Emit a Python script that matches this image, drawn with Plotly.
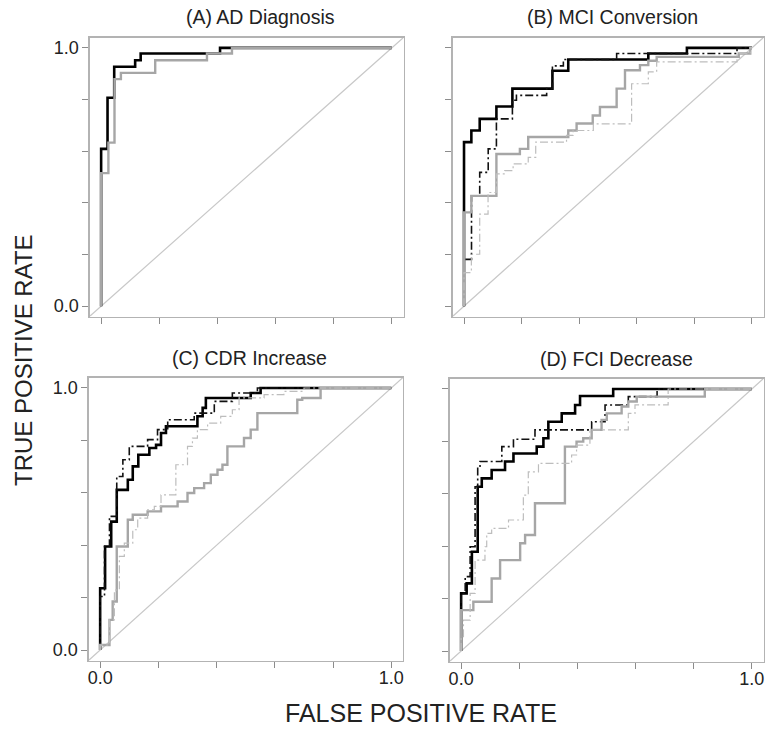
import plotly.graph_objects as go

# ---------------- data ----------------
AXIS_RANGE = [-0.04, 1.04]
TICK_VALS = [0.0, 0.2, 0.4, 0.6, 0.8, 1.0]
TICK_TEXT = ["0.0", "", "", "", "", "1.0"]
PANEL_TITLES = ["(A) AD Diagnosis", "(B) MCI Conversion", "(C) CDR Increase", "(D) FCI Decrease"]
X_TITLE = "FALSE POSITIVE RATE"
Y_TITLE = "TRUE POSITIVE RATE"

# Panel A
A_black_fpr = [0, 0.022, 0.045, 0.117, 0.136, 0.409, 1]
A_black_tpr = [0, 0.609, 0.807, 0.927, 0.952, 0.978, 1]
A_gray_fpr = [0, 0.025, 0.046, 0.068, 0.186, 0.364, 0.450, 1]
A_gray_tpr = [0, 0.515, 0.633, 0.879, 0.903, 0.952, 0.978, 1]

# Panel B
B_black_fpr = [0, 0.0255, 0.0545, 0.1125, 0.168, 0.307, 0.362, 0.640, 0.774, 1]
B_black_tpr = [0, 0.635, 0.680, 0.725, 0.773, 0.842, 0.911, 0.955, 0.978, 1]
B_blackdd_fpr = [0, 0.026, 0.0545, 0.084, 0.1125, 0.168, 0.182, 0.287, 0.307, 0.345, 0.530, 0.948, 1]
B_blackdd_tpr = [0, 0.181, 0.427, 0.518, 0.609, 0.725, 0.797, 0.816, 0.842, 0.930, 0.955, 0.978, 1]
B_gray_fpr = [0, 0.0255, 0.1125, 0.194, 0.223, 0.362, 0.391, 0.447, 0.472, 0.530, 0.559, 0.611, 0.640, 0.669, 0.954, 0.994, 1]
B_gray_tpr = [0, 0.363, 0.427, 0.589, 0.609, 0.655, 0.680, 0.707, 0.738, 0.771, 0.842, 0.913, 0.933, 0.950, 0.965, 0.978, 1]
B_graydd_fpr = [0, 0.0255, 0.0545, 0.0835, 0.1125, 0.1415, 0.1705, 0.223, 0.249, 0.356, 0.379, 0.449, 0.582, 0.640, 0.669, 0.948, 0.994, 1]
B_graydd_tpr = [0, 0.130, 0.201, 0.356, 0.440, 0.512, 0.525, 0.551, 0.576, 0.635, 0.661, 0.680, 0.706, 0.861, 0.907, 0.946, 0.978, 1]

# Panel C
C_black_fpr = [0, 0.017, 0.038, 0.057, 0.095, 0.112, 0.131, 0.169, 0.192, 0.209, 0.226, 0.334, 0.352, 0.363, 0.517, 0.551, 0.620, 1]
C_black_tpr = [0, 0.236, 0.395, 0.490, 0.611, 0.650, 0.701, 0.745, 0.771, 0.783, 0.828, 0.854, 0.892, 0.924, 0.962, 0.981, 1.0, 1]
C_blackdd_fpr = [0, 0.015, 0.032, 0.057, 0.078, 0.100, 0.163, 0.197, 0.232, 0.323, 0.392, 0.454, 0.540, 1]
C_blackdd_tpr = [0, 0.204, 0.395, 0.510, 0.662, 0.726, 0.777, 0.803, 0.841, 0.879, 0.904, 0.949, 0.981, 1]
C_gray_fpr = [0, 0.032, 0.043, 0.057, 0.095, 0.112, 0.163, 0.209, 0.266, 0.300, 0.323, 0.357, 0.380, 0.403, 0.420, 0.437, 0.494, 0.517, 0.540, 0.677, 0.694, 0.757, 1]
C_gray_tpr = [0, 0.019, 0.115, 0.185, 0.395, 0.497, 0.516, 0.529, 0.548, 0.567, 0.599, 0.618, 0.637, 0.669, 0.688, 0.707, 0.777, 0.809, 0.841, 0.904, 0.955, 0.962, 1]
C_graydd_fpr = [0, 0.032, 0.049, 0.066, 0.083, 0.112, 0.129, 0.163, 0.186, 0.209, 0.260, 0.300, 0.317, 0.334, 0.369, 0.414, 0.454, 0.477, 0.563, 0.631, 0.700, 1]
C_graydd_tpr = [0, 0.019, 0.115, 0.229, 0.357, 0.408, 0.459, 0.503, 0.535, 0.548, 0.592, 0.707, 0.777, 0.809, 0.841, 0.866, 0.892, 0.917, 0.962, 0.975, 0.987, 1]

# Panel D
D_black_fpr = [0, 0.019, 0.037, 0.057, 0.071, 0.105, 0.151, 0.180, 0.260, 0.283, 0.300, 0.346, 0.392, 0.409, 0.523, 1]
D_black_tpr = [0, 0.220, 0.258, 0.379, 0.627, 0.659, 0.691, 0.723, 0.754, 0.780, 0.812, 0.875, 0.907, 0.939, 0.973, 1]
D_blackdd_fpr = [0, 0.014, 0.031, 0.048, 0.057, 0.065, 0.140, 0.180, 0.254, 0.449, 0.495, 0.575, 0.674, 1]
D_blackdd_tpr = [0, 0.220, 0.284, 0.398, 0.627, 0.697, 0.723, 0.780, 0.808, 0.844, 0.875, 0.939, 0.971, 1]
D_gray_fpr = [0, 0.042, 0.105, 0.134, 0.203, 0.220, 0.254, 0.357, 0.397, 0.420, 0.449, 0.483, 0.501, 0.552, 0.575, 0.604, 0.838, 1]
D_gray_tpr = [0, 0.156, 0.188, 0.277, 0.347, 0.411, 0.443, 0.564, 0.780, 0.799, 0.812, 0.844, 0.882, 0.907, 0.933, 0.952, 0.971, 1]
D_graydd_fpr = [0, 0.008, 0.031, 0.048, 0.082, 0.088, 0.105, 0.163, 0.214, 0.231, 0.266, 0.380, 0.397, 0.443, 0.575, 0.598, 0.712, 1]
D_graydd_tpr = [0, 0.055, 0.118, 0.220, 0.347, 0.398, 0.449, 0.468, 0.500, 0.595, 0.684, 0.716, 0.748, 0.786, 0.844, 0.907, 0.939, 1]

PANELS = [
    [("black", A_black_fpr, A_black_tpr), ("gray", A_gray_fpr, A_gray_tpr)],
    [("black", B_black_fpr, B_black_tpr), ("black_dd", B_blackdd_fpr, B_blackdd_tpr),
     ("gray", B_gray_fpr, B_gray_tpr), ("gray_dd", B_graydd_fpr, B_graydd_tpr)],
    [("black", C_black_fpr, C_black_tpr), ("black_dd", C_blackdd_fpr, C_blackdd_tpr),
     ("gray", C_gray_fpr, C_gray_tpr), ("gray_dd", C_graydd_fpr, C_graydd_tpr)],
    [("black", D_black_fpr, D_black_tpr), ("black_dd", D_blackdd_fpr, D_blackdd_tpr),
     ("gray", D_gray_fpr, D_gray_tpr), ("gray_dd", D_graydd_fpr, D_graydd_tpr)],
]

# ---------------- styling ----------------
W, H = 766, 733
STYLES = {
    "black": dict(color="#000000", width=2.6, dash="solid"),
    "black_dd": dict(color="#111111", width=1.6, dash="8px,3px,2px,3px"),
    "gray": dict(color="#a6a6a6", width=2.4, dash="solid"),
    "gray_dd": dict(color="#bdbdbd", width=1.2, dash="8px,3px,2px,3px"),
}
# panel boxes in pixels: (left, right, top, bottom)
BOXES = [(89.5, 403.5, 37.5, 316.5), (452.5, 763.5, 37.5, 316.5),
         (88.5, 403.0, 377.5, 660.5), (449.5, 763.5, 378.5, 661.5)]
TITLE_POS = [(260, 17), (612, 17), (249, 358), (616, 359)]
FONT = "Liberation Sans, Arial, sans-serif"

fig = go.Figure()
layout = dict(width=W, height=H, margin=dict(l=0, r=0, t=0, b=0, autoexpand=False),
              paper_bgcolor="white", plot_bgcolor="white", showlegend=False)
annotations = []
shapes = []

for i, series in enumerate(PANELS):
    n = "" if i == 0 else str(i + 1)
    xa, ya = "x" + n, "y" + n
    l, r, t, b = BOXES[i]
    show_x = i >= 2
    show_y = i in (0, 2)
    axis_common = dict(range=AXIS_RANGE, tickvals=TICK_VALS, ticktext=TICK_TEXT,
                       showgrid=False, zeroline=False, showline=True, mirror=True,
                       linecolor="#b3b3b3", linewidth=1.2, ticks="outside",
                       ticklen=6, tickwidth=1, tickcolor="#8c8c8c",
                       ticklabeloverflow="allow",
                       tickfont=dict(family=FONT, size=18, color="#222"))
    layout["xaxis" + n] = dict(axis_common, domain=[l / W, r / W], anchor=ya,
                               showticklabels=show_x, ticklabelstandoff=-5)
    layout["yaxis" + n] = dict(axis_common, domain=[1 - b / H, 1 - t / H], anchor=xa,
                               showticklabels=show_y)
    # chance diagonal across the full plotting region
    shapes.append(dict(type="line", xref=xa, yref=ya,
                       x0=AXIS_RANGE[0], y0=AXIS_RANGE[0], x1=AXIS_RANGE[1], y1=AXIS_RANGE[1],
                       line=dict(color="#c8c8c8", width=1.2), layer="below"))
    for key, fpr, tpr in series:
        st = STYLES[key]
        fig.add_trace(go.Scatter(x=fpr, y=tpr, mode="lines", xaxis=xa, yaxis=ya,
                                 line=dict(color=st["color"], width=st["width"],
                                           dash=st["dash"], shape="vh"),
                                 hoverinfo="skip"))
    tx, ty = TITLE_POS[i]
    annotations.append(dict(text=PANEL_TITLES[i], xref="paper", yref="paper",
                            x=tx / W, y=1 - ty / H, showarrow=False,
                            xanchor="center", yanchor="middle",
                            font=dict(family=FONT, size=19.5, color="#222")))

annotations.append(dict(text=X_TITLE, xref="paper", yref="paper",
                        x=421 / W, y=1 - 713 / H,
                        showarrow=False, xanchor="center", yanchor="middle",
                        font=dict(family=FONT, size=25, color="#222")))
annotations.append(dict(text=Y_TITLE, xref="paper", yref="paper",
                        x=23 / W, y=1 - 360 / H,
                        showarrow=False, xanchor="center", yanchor="middle", textangle=-90,
                        font=dict(family=FONT, size=24, color="#222")))

layout["annotations"] = annotations
layout["shapes"] = shapes
fig.update_layout(**layout)
# place the figure at the page origin (remove the default body margin / scrollbars)
PAGE_JS = ("document.body.style.margin='0';"
           "document.documentElement.style.overflow='hidden';"
           "document.body.style.overflow='hidden';")
fig.write_html("out.html", post_script=PAGE_JS,
               config={"displayModeBar": False, "staticPlot": True})
